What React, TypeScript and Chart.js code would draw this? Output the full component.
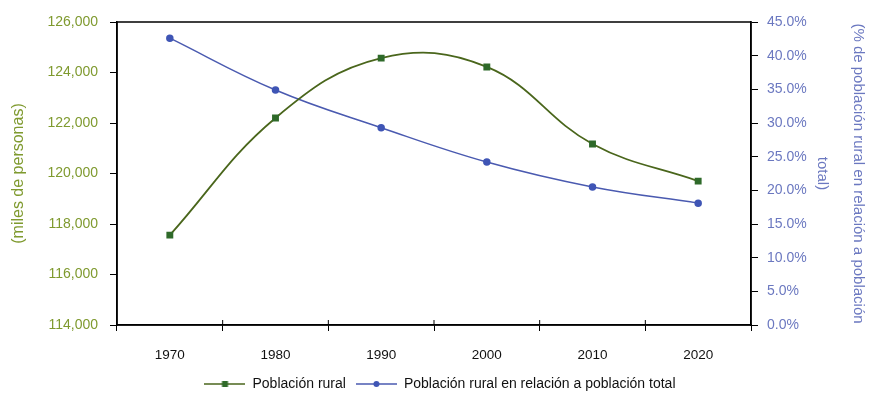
import React, { useEffect, useRef } from "react";
import { Chart, registerables } from "chart.js";

Chart.register(...registerables);

const years = ["1970", "1980", "1990", "2000", "2010", "2020"];
const ruralPop = [117560, 122200, 124570, 124220, 121170, 119700];
const ruralPct = [42.6, 34.9, 29.3, 24.2, 20.5, 18.1];

const GREEN_LINE = "#4a661c";
const GREEN_MARK = "#2f6a2a";
const GREEN_TEXT = "#7f9a2f";
const BLUE_LINE = "#4a5ab0";
const BLUE_MARK = "#3f55b5";
const BLUE_TEXT = "#6b78c0";
const FONT = "'Liberation Sans', Arial, sans-serif";

function legendIcon(line: string, mark: string, shape: "square" | "circle") {
  const c = document.createElement("canvas");
  c.width = 41;
  c.height = 10;
  const ctx = c.getContext("2d")!;
  ctx.strokeStyle = line;
  ctx.lineWidth = 1.6;
  ctx.beginPath();
  ctx.moveTo(0, 5);
  ctx.lineTo(41, 5);
  ctx.stroke();
  ctx.fillStyle = mark;
  if (shape === "square") {
    ctx.fillRect(17.5, 2, 6, 6);
  } else {
    ctx.beginPath();
    ctx.arc(20.5, 5, 3, 0, Math.PI * 2);
    ctx.fill();
  }
  return c;
}

const frame = {
  id: "frame",
  afterDatasetsDraw(chart: any) {
    const { ctx, chartArea } = chart;
    ctx.save();
    ctx.strokeStyle = "#000";
    ctx.lineWidth = 1.5;
    ctx.strokeRect(chartArea.left, chartArea.top, chartArea.right - chartArea.left, chartArea.bottom - chartArea.top);
    // small inward tick marks crossing the x axis at category boundaries
    const xs = chart.scales.x;
    ctx.lineWidth = 1;
    ctx.beginPath();
    for (let i = 1; i < years.length; i++) {
      const px = (xs.getPixelForTick(i - 1) + xs.getPixelForTick(i)) / 2;
      ctx.moveTo(px, chartArea.bottom);
      ctx.lineTo(px, chartArea.bottom - 5);
    }
    ctx.stroke();
    ctx.restore();
  },
};

export default function App() {
  const ref = useRef<HTMLCanvasElement>(null);
  useEffect(() => {
    const icons = [
      legendIcon(GREEN_LINE, GREEN_MARK, "square"),
      legendIcon(BLUE_LINE, BLUE_MARK, "circle"),
    ];
    const chart = new Chart(ref.current!, {
      type: "line",
      data: {
        labels: years,
        datasets: [
          {
            label: "Población rural",
            data: ruralPop,
            yAxisID: "y",
            borderColor: GREEN_LINE,
            backgroundColor: GREEN_MARK,
            borderWidth: 1.8,
            pointStyle: "rect",
            pointRadius: 3.6,
            pointBackgroundColor: GREEN_MARK,
            pointBorderColor: GREEN_MARK,
            tension: 0.4,
          },
          {
            label: "Población rural en relación a población total",
            data: ruralPct,
            yAxisID: "y1",
            borderColor: BLUE_LINE,
            backgroundColor: BLUE_MARK,
            borderWidth: 1.5,
            pointStyle: "circle",
            pointRadius: 3,
            pointBackgroundColor: BLUE_MARK,
            pointBorderColor: BLUE_MARK,
            tension: 0.4,
          },
        ],
      },
      options: {
        animation: false,
        responsive: true,
        maintainAspectRatio: false,
        layout: { padding: { top: 22, bottom: 0, left: 0, right: 0 } },
        plugins: {
          tooltip: { enabled: false },
          legend: {
            position: "bottom",
            labels: {
              usePointStyle: true,
              pointStyleWidth: 41,
              color: "#111",
              font: { family: FONT, size: 14 },
              padding: 10,
              generateLabels: (ch: any) =>
                ch.data.datasets.map((ds: any, i: number) => ({
                  text: ds.label,
                  pointStyle: icons[i],
                  fillStyle: "transparent",
                  strokeStyle: "transparent",
                  lineWidth: 0,
                  fontColor: "#111",
                  hidden: false,
                  datasetIndex: i,
                })),
            },
          },
        },
        scales: {
          x: {
            type: "category",
            offset: true,
            afterFit: (s: any) => {
              s.height = 42;
            },
            grid: {
              offset: true,
              drawOnChartArea: false,
              color: "#000",
              tickLength: 6,
            },
            border: { display: true, color: "#000", width: 1.5 },
            ticks: {
              color: "#111",
              padding: 16,
              font: { family: FONT, size: 13.5 },
            },
          },
          y: {
            position: "left",
            min: 114000,
            max: 126000,
            afterFit: (s: any) => {
              s.width = 117;
            },
            ticks: {
              stepSize: 2000,
              color: GREEN_TEXT,
              padding: 12,
              font: { family: FONT, size: 14 },
              callback: (v: any) => Number(v).toLocaleString("en-US"),
            },
            grid: { drawOnChartArea: false, color: "#000", tickLength: 7 },
            border: { display: true, color: "#000", width: 1.5 },
            title: {
              display: true,
              text: "(miles de personas)",
              color: GREEN_TEXT,
              padding: { top: 8.5, bottom: 0 },
              font: { family: FONT, size: 16 },
            },
          },
          y1: {
            position: "right",
            min: 0,
            max: 45,
            afterFit: (s: any) => {
              s.width = 129;
            },
            ticks: {
              stepSize: 5,
              color: BLUE_TEXT,
              padding: 9,
              font: { family: FONT, size: 14 },
              callback: (v: any) => Number(v).toFixed(1) + "%",
            },
            grid: { drawOnChartArea: false, color: "#000", tickLength: 7 },
            border: { display: true, color: "#000", width: 1.5 },
            title: {
              display: true,
              text: ["(% de población rural en relación a población", "total)"],
              color: BLUE_TEXT,
              padding: { top: 4, bottom: 0 },
              font: { family: FONT, size: 15, lineHeight: 2.4 },
            },
          },
        },
      },
      plugins: [frame],
    } as any);
    return () => chart.destroy();
  }, []);
  return (
    <div style={{ position: "absolute", left: 0, top: 0, width: 880, height: 401, background: "#fff" }}>
      <canvas ref={ref} />
    </div>
  );
}
